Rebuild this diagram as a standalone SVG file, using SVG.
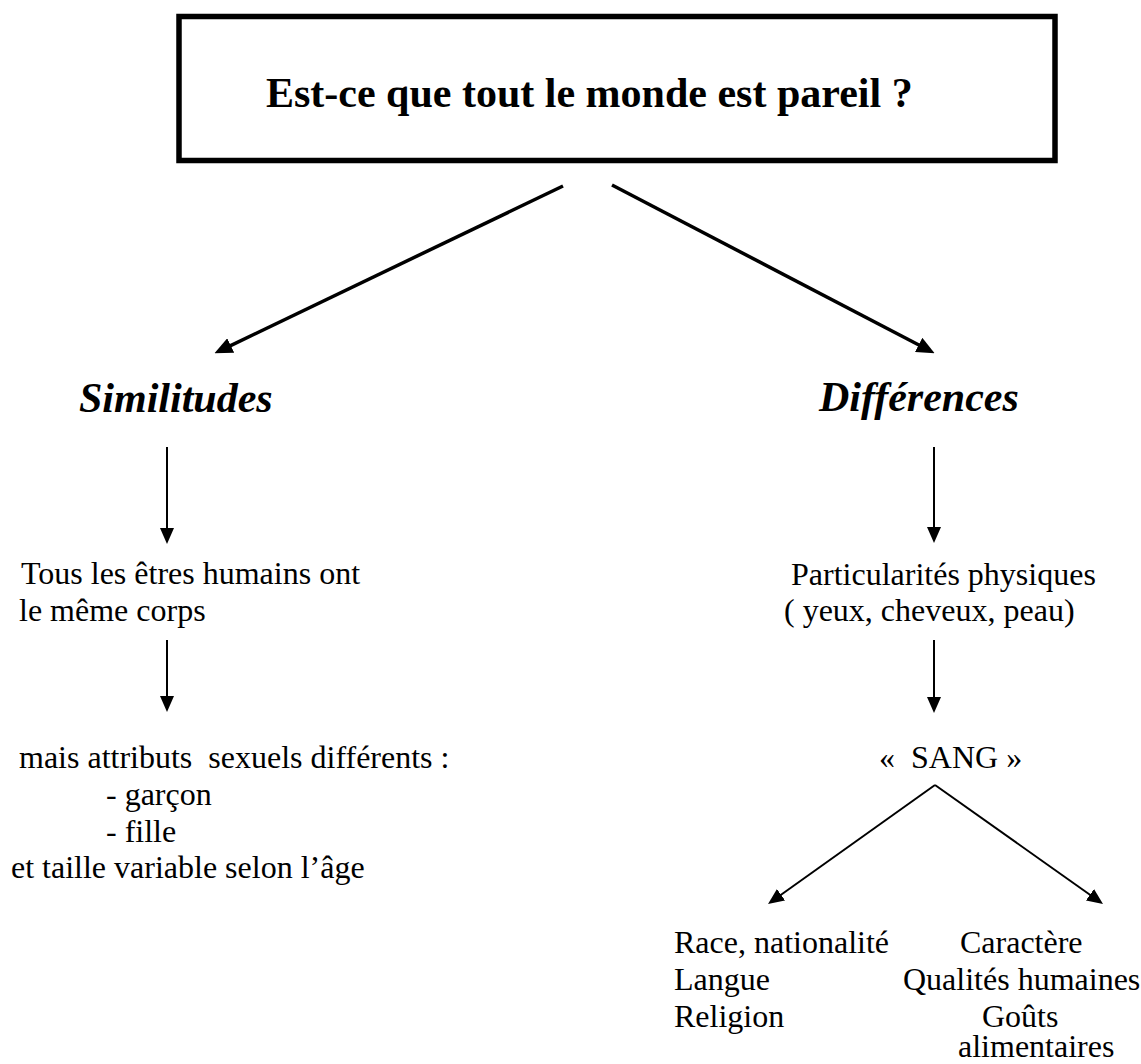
<svg xmlns="http://www.w3.org/2000/svg" width="1141" height="1064" viewBox="0 0 1141 1064">
<style>
text{font-family:"Liberation Serif","Times New Roman",serif;fill:#000;white-space:pre}
.t{font-size:32px}
.h{font-size:42px;font-weight:bold;font-style:italic}
.title{font-size:42px;font-weight:bold}
.thick{stroke:#000;stroke-width:3.5;fill:none;marker-end:url(#ahb)}
.thin{stroke:#000;stroke-width:2;fill:none;marker-end:url(#ah)}
</style>
<defs>
<marker id="ah" markerUnits="userSpaceOnUse" markerWidth="16" markerHeight="14" refX="3" refY="7" orient="auto">
<path d="M0,0 L16,7 L0,14 z" fill="#000"/>
</marker>
<marker id="ahb" markerUnits="userSpaceOnUse" markerWidth="18" markerHeight="16" refX="3" refY="8" orient="auto">
<path d="M0,0 L18,8 L0,16 z" fill="#000"/>
</marker>
</defs>
<rect width="1141" height="1064" fill="#fff"/>
<g id="question">
<rect x="179" y="16.5" width="876" height="144" fill="none" stroke="#000" stroke-width="5.5"/>
<text class="title" x="266" y="107">Est-ce que tout le monde est pareil ?</text>
</g>
<g id="similitudes"><text class="h" x="79" y="412">Similitudes</text></g>
<g id="differences"><text class="h" x="819" y="411">Différences</text></g>
<g id="meme-corps">
<text class="t" x="21" y="584">Tous les êtres humains ont</text>
<text class="t" x="19" y="621">le même corps</text>
</g>
<g id="attributs">
<text class="t" x="19" y="768" xml:space="preserve">mais attributs  sexuels différents :</text>
<text class="t" x="106" y="805">- garçon</text>
<text class="t" x="106" y="842">- fille</text>
<text class="t" x="11" y="878">et taille variable selon l’âge</text>
</g>
<g id="particularites">
<text class="t" x="791" y="585">Particularités physiques</text>
<text class="t" x="784" y="621">( yeux, cheveux, peau)</text>
</g>
<g id="sang"><text class="t" x="879" y="768" xml:space="preserve">«  SANG »</text></g>
<g id="race">
<text class="t" x="674" y="953">Race, nationalité</text>
<text class="t" x="674" y="990">Langue</text>
<text class="t" x="674" y="1027">Religion</text>
</g>
<g id="caractere">
<text class="t" x="960" y="953">Caractère</text>
<text class="t" x="903" y="990">Qualités humaines</text>
<text class="t" x="982" y="1027">Goûts</text>
<text class="t" x="958" y="1057">alimentaires</text>
</g>
<g id="connectors">
<path class="thick" d="M563,186 L228,346.8"/>
<path class="thick" d="M612,185 L921.3,346.3"/>
<path class="thin" d="M167,447 L167,531"/>
<path class="thin" d="M167,640 L167,699"/>
<path class="thin" d="M934,447 L934,530"/>
<path class="thin" d="M934,640 L934,700"/>
<path class="thin" d="M935,785 L778.6,896.5"/>
<path class="thin" d="M935,785 L1092.4,896.5"/>
</g>
</svg>
